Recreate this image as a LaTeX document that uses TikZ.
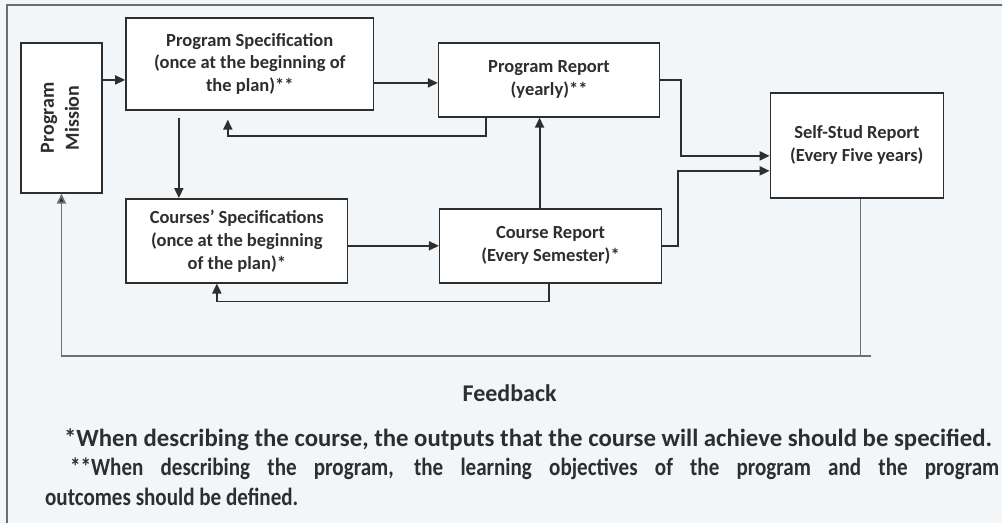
\documentclass[tikz,border=0pt]{standalone}
\usepackage{fontspec}
\setmainfont{Carlito}
\usetikzlibrary{arrows.meta}
\definecolor{bgcol}{HTML}{F2F6F8}
\definecolor{ink}{HTML}{2E2E2E}
\definecolor{fbcol}{HTML}{6E7072}
\definecolor{framecol}{HTML}{6A6E70}
\begin{document}
\begin{tikzpicture}[x=1pt, y=-1pt, >={Triangle[length=10pt, width=9pt]},
      blk/.style={draw=ink, line width=1.5pt, fill=white, text=ink, align=center,
        font=\bfseries\fontsize{18.5}{23}\selectfont, inner sep=0pt},
      flow/.style={->, draw=ink, line width=1.9pt},
      fb/.style={draw=fbcol, line width=1.6pt},
      note/.style={text=ink, font=\bfseries\fontsize{24.8}{29}\selectfont, inner sep=0pt}]
      \fill[bgcol] (0, 0) rectangle (1003, 523);
      \draw[framecol, line width=1.6pt] (1003, 5) -- (7, 5) -- (7, 523);

      \node[blk, minimum width=81pt, minimum height=150pt] (PM) at (61.5, 118)
        {\fontsize{20}{25}\selectfont\rotatebox{90}{\begin{tabular}{@{}c@{}}Program\\Mission\end{tabular}}};
      \node[blk, minimum width=248pt, minimum height=92pt] (PS) at (250, 64)
        {Program Specification\\(once at the beginning of\\the plan)**};
      \node[blk, minimum width=221pt, minimum height=74pt] (PR) at (549.5, 80)
        {Program Report\\(yearly)**};
      \node[blk, minimum width=173pt, minimum height=105pt] (SSR) at (857.5, 145.5)
        {Self-Stud Report\\(Every Five years)};
      \node[blk, minimum width=222pt, minimum height=84pt] (CS) at (237, 241)
        {Courses' Specifications\\(once at the beginning\\of the plan)*};
      \node[blk, minimum width=222pt, minimum height=74pt] (CR) at (551, 246)
        {Course Report\\(Every Semester)*};
      \coordinate (FB) at (872, 356);

      \draw[flow] ([yshift=38pt]PM.east) -- ([yshift=38pt]PM.east -| PS.west);
      \draw[flow] ([yshift=-19pt]PS.east) -- ([yshift=-19pt]PS.east -| PR.west);
      \draw[flow, shorten <=7pt] ([xshift=-71pt]PS.south) -- ([xshift=-71pt]PS.south |- CS.north);
      \draw[flow, shorten >=9pt] ([xshift=-63.5pt]PR.south) -- ++(0, 18) -| ([xshift=-22pt]PS.south);
      \draw[flow] (CS.east |- CR.west) -- (CR.west);
      \draw[flow] ([xshift=-2pt]CR.south) -- ++(0, 18) -| ([xshift=-20pt]CS.south);
      \draw[flow] ([xshift=-11pt]CR.north) -- ([xshift=-11pt]CR.north |- PR.south);
      \draw[flow] (PR.east) -- ++(20.5, 0) |- ([yshift=-10.5pt]SSR.west);
      \draw[flow] (CR.east) -- ++(16, 0) |- ([yshift=-25.5pt]SSR.west);
      \draw[fb] ([xshift=3.5pt]SSR.south) -- ([xshift=3.5pt]SSR.south |- FB);
      \draw[fb, -{Triangle[length=10pt, width=9pt, fill=ink]}] (FB) -| (PM.south);

      \node[note, font=\bfseries\fontsize{24}{28}\selectfont] (FL) at (510, 393) {Feedback};
      \node[note, anchor=west] (N1) at (64, 440)
        {*When describing the course, the outputs that the course will achieve should be specified.};
      \node[note, anchor=west] (N2) at (70, 469)
        {\scalebox{0.85}[1]{\makebox[1094pt][s]{**When describing the program, the learning objectives of the program and the program}}};
      \node[note, anchor=west] (N3) at (45, 497) {\scalebox{0.85}[1]{outcomes should be defined.}};
    \end{tikzpicture}
\end{document}
